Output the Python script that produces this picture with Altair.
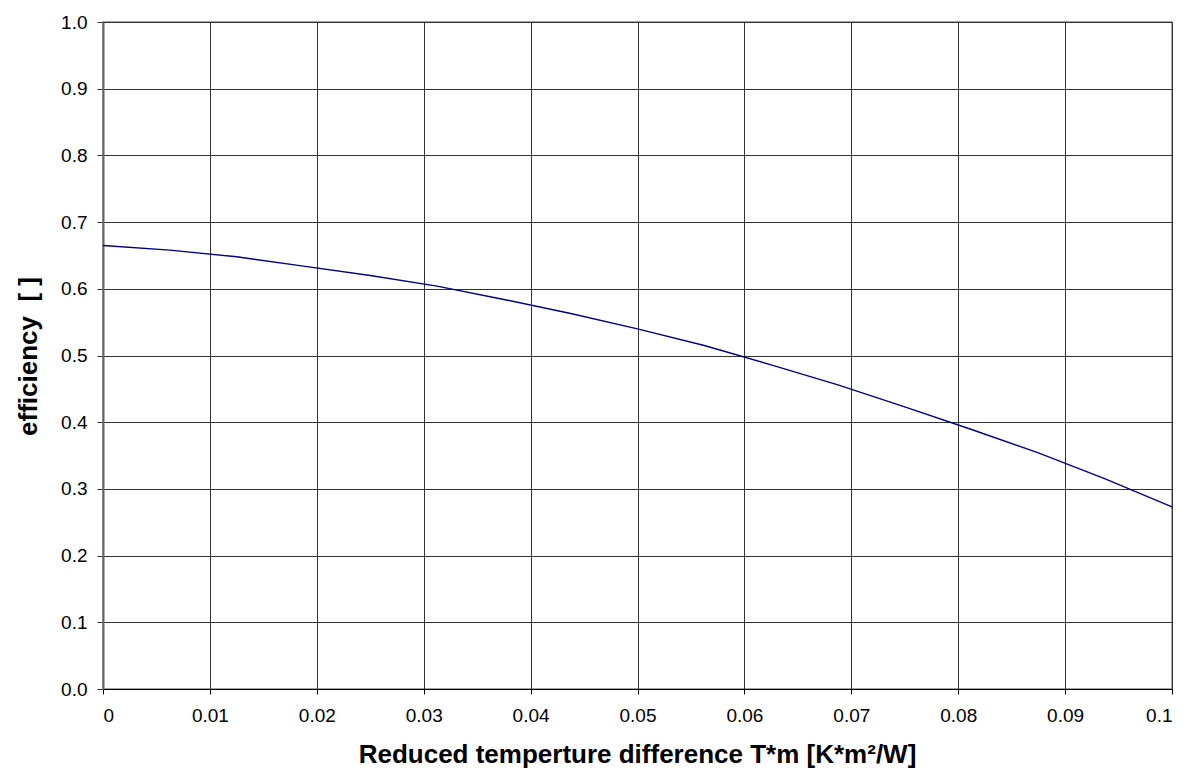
import altair as alt
import pandas as pd

x_vals = [0, 0.00625, 0.0125, 0.01875, 0.025, 0.03125, 0.0375, 0.04375, 0.05,
          0.05625, 0.0625, 0.06875, 0.075, 0.08125, 0.0875, 0.09375, 0.1]
y_vals = [0.665, 0.658, 0.648, 0.634, 0.620, 0.604, 0.584, 0.563, 0.540,
          0.515, 0.486, 0.456, 0.423, 0.389, 0.354, 0.315, 0.273]

x_ticks = [0, 0.01, 0.02, 0.03, 0.04, 0.05, 0.06, 0.07, 0.08, 0.09, 0.1]
y_ticks = [0, 0.1, 0.2, 0.3, 0.4, 0.5, 0.6, 0.7, 0.8, 0.9, 1.0]

df = pd.DataFrame({"x": x_vals, "y": y_vals})

FONT = "Liberation Sans"
LABEL_SIZE = 19
TITLE_SIZE = 26

chart = alt.Chart(df).mark_line(color="#000080", strokeWidth=1.4).encode(
    x=alt.X("x:Q",
            scale=alt.Scale(domain=[0, 0.1], nice=False, zero=False),
            axis=alt.Axis(values=x_ticks, format="~g",
                          title="Reduced temperture difference T*m [K*m²/W]",
                          titleX=534, titleY=65, titleBaseline="middle",
                          labelPadding=12, tickSize=5,
                          labelFont=FONT, labelFontSize=LABEL_SIZE, labelColor="#000000",
                          titleFont=FONT, titleFontSize=TITLE_SIZE, titleFontWeight="bold",
                          titleColor="#000000",
                          domainColor="#000000", tickColor="#000000",
                          gridColor="#333333", gridWidth=1)),
    y=alt.Y("y:Q",
            scale=alt.Scale(domain=[0, 1], nice=False),
            axis=alt.Axis(values=y_ticks, format=".1f",
                          title="efficiency\u00a0\u00a0[ ]",
                          titleX=-75, titleY=334, titleBaseline="middle",
                          titleAngle=-90,
                          labelPadding=10, tickSize=6,
                          labelFont=FONT, labelFontSize=LABEL_SIZE, labelColor="#000000",
                          titleFont=FONT, titleFontSize=TITLE_SIZE, titleFontWeight="bold",
                          titleColor="#000000",
                          domainColor="#666666", domainWidth=2,
                          tickColor="#333333",
                          gridColor="#333333", gridWidth=1)),
).properties(
    width=1069, height=667,
    background="white",
    autosize=alt.AutoSizeParams(type="none"),
    padding={"left": 95, "top": 14, "right": 7, "bottom": 79},
).configure_view(
    stroke="#888888", strokeWidth=1.5
)

chart.save("out.html", embed_options={"renderer": "svg", "actions": False})
